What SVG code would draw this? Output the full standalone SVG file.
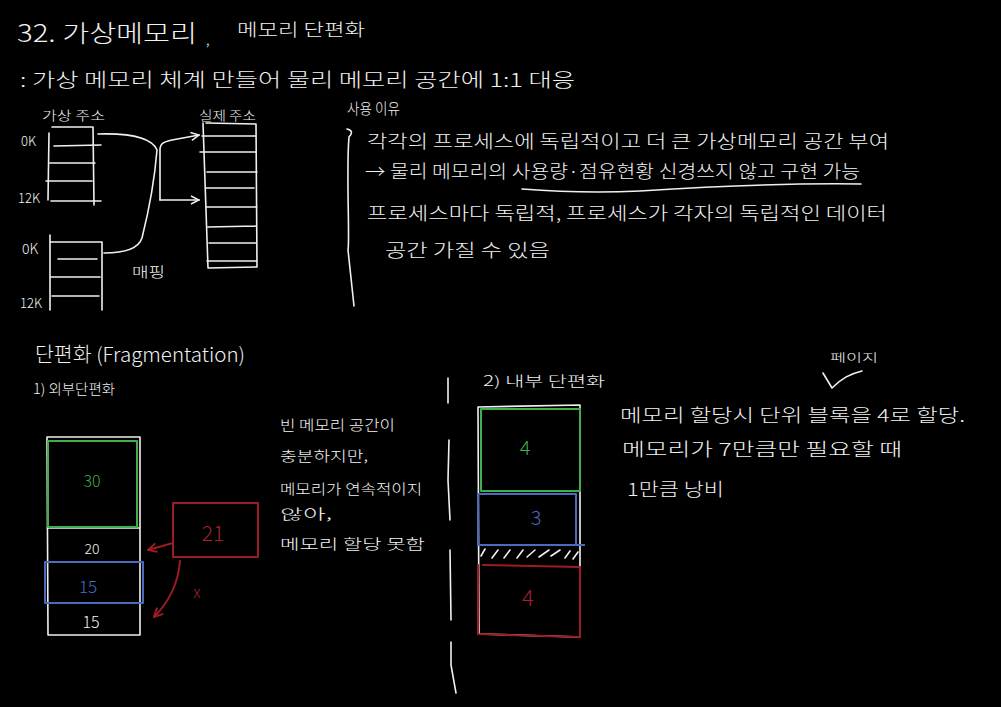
<svg xmlns="http://www.w3.org/2000/svg" width="1001" height="707" viewBox="0 0 1001 707">
<defs>
<style>
.t{font-family:"Noto Sans CJK KR","Noto Sans",sans-serif;fill:#f2f2f2;font-weight:300}
.w{fill:none;stroke:#f0f0f0;stroke-width:1.6;stroke-linecap:round;stroke-linejoin:round}
.g{fill:none;stroke:#3fae4c;stroke-width:2;stroke-linejoin:round}
.b{fill:none;stroke:#4a6cc0;stroke-width:2;stroke-linejoin:round}
.r{fill:none;stroke:#9c1c26;stroke-width:2;stroke-linecap:round;stroke-linejoin:round}
.tg{fill:#3fae4c}.tb{fill:#4a6cc0}.tr{fill:#a3222c}
</style>
<marker id="aw" viewBox="0 0 10 10" refX="9" refY="5" markerWidth="10" markerHeight="10" markerUnits="userSpaceOnUse" orient="auto">
<path d="M1,1 L9,5 L1,9" fill="none" stroke="#f0f0f0" stroke-width="1.5"/>
</marker>
<marker id="ar" viewBox="0 0 10 10" refX="9" refY="5" markerWidth="11" markerHeight="11" markerUnits="userSpaceOnUse" orient="auto">
<path d="M1,1 L9,5 L1,9" fill="none" stroke="#9c1c26" stroke-width="1.8"/>
</marker>
</defs>
<rect width="1001" height="707" fill="#000"/>

<g id="title">
<text class="t" x="17" y="42" font-size="24" textLength="180" lengthAdjust="spacingAndGlyphs">32. 가상메모리</text>
<text class="t" x="206" y="45" font-size="14">,</text>
<text class="t" x="237" y="36" font-size="17" textLength="128" lengthAdjust="spacingAndGlyphs">메모리 단편화</text>
<text class="t" x="20" y="87" font-size="19" textLength="555" lengthAdjust="spacingAndGlyphs">: 가상 메모리 체계 만들어 물리 메모리 공간에 1:1 대응</text>
</g>

<g id="virtual-table-1">
<text class="t" x="42" y="120" font-size="13" textLength="63" lengthAdjust="spacingAndGlyphs">가상 주소</text>
<text class="t" x="21" y="146" font-size="13">0K</text>
<text class="t" x="18" y="203" font-size="13">12K</text>
<path class="w" d="M49,133 L48,200 M52,127 L93,127 L94,205 M54,146 L101,145 M50,163 L95,163 M46,181 L92,181 M51,201 L101,201"/>
</g>

<g id="virtual-table-2">
<text class="t" x="22" y="254" font-size="14">0K</text>
<text class="t" x="20" y="308" font-size="13">12K</text>
<path class="w" d="M50,235 L50,310 M51,242 L102,242 L102,310 M58,259 L97,259 M50,277 L100,277 M52,296 L99,296"/>
</g>

<g id="physical-table">
<text class="t" x="199" y="120" font-size="13" textLength="57" lengthAdjust="spacingAndGlyphs">실제 주소</text>
<path class="w" d="M203,123 L208,268 L257,267 L256,124 L206,123 M202,136 L256,136 M200,152 L256,152 M207,172 L257,172 M206,188 L254,188 M206,207 L257,207 M208,227 L256,226 M209,243 L257,243 M207,261 L257,261"/>
</g>

<g id="connectors">
<path class="w" d="M98,134 C130,133 152,138 157,150 C155,175 149,210 142,238 C138,250 120,253 104,253"/>
<path class="w" d="M160,200 L160,150 C160,143 164,142 172,140 L199,135" marker-end="url(#aw)"/>
<path class="w" d="M160,200 L199,200" marker-end="url(#aw)"/>
<path class="r" d="M173,543 L148,550" marker-end="url(#ar)"/>
<path class="r" d="M180,561 C178,585 168,603 154,617" marker-end="url(#ar)"/>
<path class="w" d="M823,373 L832,388 C842,378 850,374 862,371"/>
</g>

<g id="mapping-label">
<text class="t" x="132" y="277" font-size="14" textLength="33" lengthAdjust="spacingAndGlyphs">매핑</text>
</g>

<g id="reasons">
<text class="t" x="347" y="114" font-size="15" textLength="53" lengthAdjust="spacingAndGlyphs">사용 이유</text>
<path class="w" d="M347,129 C352,130 353,133 349,137 C346,170 350,240 348,250 L354,306"/>
<text class="t" x="367" y="148" font-size="18" textLength="522" lengthAdjust="spacingAndGlyphs">각각의 프로세스에 독립적이고 더 큰 가상메모리 공간 부여</text>
<text class="t" x="365" y="178" font-size="18" textLength="495" lengthAdjust="spacingAndGlyphs">→ 물리 메모리의 사용량·점유현황 신경쓰지 않고 구현 가능</text>
<path class="w" d="M522,189 C560,192 600,193 640,191 C720,186 800,183 861,184"/>
<text class="t" x="367" y="220" font-size="18" textLength="520" lengthAdjust="spacingAndGlyphs">프로세스마다 독립적, 프로세스가 각자의 독립적인 데이터</text>
<text class="t" x="385" y="257" font-size="18" textLength="165" lengthAdjust="spacingAndGlyphs">공간 가질 수 있음</text>
</g>

<g id="fragmentation-heading">
<text class="t" x="35" y="362" font-size="20" textLength="210" lengthAdjust="spacingAndGlyphs">단편화 (Fragmentation)</text>
<text class="t" x="33" y="394" font-size="14" textLength="82" lengthAdjust="spacingAndGlyphs">1) 외부단편화</text>
</g>

<g id="external-stack">
<path class="w" d="M47,437 L140,437 L140,635 L48,635 Z M47,528 L140,528"/>
<rect class="g" x="48" y="441" width="89" height="86"/>
<text class="t tg" x="92" y="487" font-size="16" text-anchor="middle">30</text>
<text class="t" x="92" y="554" font-size="14" text-anchor="middle">20</text>
<rect class="b" x="45" y="562" width="98" height="41"/>
<text class="t tb" x="88" y="593" font-size="17" text-anchor="middle">15</text>
<text class="t" x="91" y="628" font-size="16" text-anchor="middle">15</text>
</g>

<g id="request-21">
<rect class="r" x="173" y="503" width="85" height="54"/>
<text class="t tr" x="213" y="541" font-size="21" text-anchor="middle">21</text>
<text class="t tr" x="197" y="598" font-size="16" text-anchor="middle">x</text>
</g>

<g id="external-note">
<text class="t" x="280" y="430" font-size="14" textLength="115" lengthAdjust="spacingAndGlyphs">빈 메모리 공간이</text>
<text class="t" x="280" y="461" font-size="14" textLength="88" lengthAdjust="spacingAndGlyphs">충분하지만,</text>
<text class="t" x="280" y="494" font-size="14" textLength="142" lengthAdjust="spacingAndGlyphs">메모리가 연속적이지</text>
<text class="t" x="280" y="519" font-size="14" textLength="52" lengthAdjust="spacingAndGlyphs">않아,</text>
<text class="t" x="280" y="549" font-size="14" textLength="145" lengthAdjust="spacingAndGlyphs">메모리 할당 못함</text>
</g>

<g id="separator">
<path class="w" d="M448,378 L448,403 M449,440 L448,480 L450,520 M450,550 L451,620 M451,642 L451,665 L456,693"/>
</g>

<g id="internal-heading">
<text class="t" x="483" y="386" font-size="14" textLength="122" lengthAdjust="spacingAndGlyphs">2) 내부 단편화</text>
</g>

<g id="internal-stack">
<path class="w" d="M478,407 L580,405 L580,637 L479,634 Z"/>
<rect class="g" x="481" y="409" width="99" height="82"/>
<text class="t tg" x="525" y="455" font-size="20" text-anchor="middle">4</text>
<path class="b" d="M478,545 L478,494 L576,494 L576,545 M477,545 L585,545"/>
<text class="t tb" x="536" y="525" font-size="20" text-anchor="middle">3</text>
<path class="w" d="M481,556 L485,549 M492,558 L498,550 M504,558 L510,550 M517,558 L523,550 M527,557 L535,550 M539,557 L549,550 M551,556 L560,550 M565,558 L570,551 M573,559 L578,552"/>
<path class="r" d="M478,565 L478,634 L580,637 L580,567 L483,565"/>
<text class="t tr" x="528" y="606" font-size="22" text-anchor="middle">4</text>
</g>

<g id="internal-note">
<text class="t" x="830" y="362" font-size="11" textLength="48" lengthAdjust="spacingAndGlyphs">페이지</text>
<text class="t" x="620" y="422" font-size="18" textLength="345" lengthAdjust="spacingAndGlyphs">메모리 할당시 단위 블록을 4로 할당.</text>
<text class="t" x="622" y="456" font-size="18" textLength="280" lengthAdjust="spacingAndGlyphs">메모리가 7만큼만 필요할 때</text>
<text class="t" x="627" y="496" font-size="18" textLength="97" lengthAdjust="spacingAndGlyphs">1만큼 낭비</text>
</g>
</svg>
